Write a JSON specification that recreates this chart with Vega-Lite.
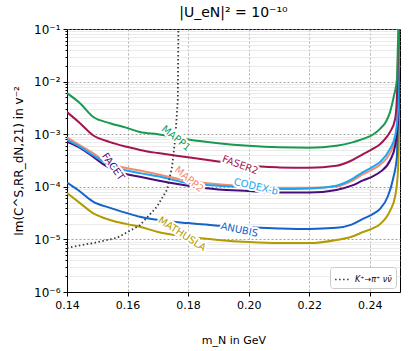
{
"$schema": "https://vega.github.io/schema/vega-lite/v6.json",
"width": 333, "height": 263,
"autosize": {"type": "none"},
"padding": {"left": 67, "top": 29, "right": 8, "bottom": 59},
"background": "white",
"title": {"text": "|U_eN|² = 10⁻¹⁰", "fontSize": 14, "font": "DejaVu Sans", "fontWeight": "normal", "offset": 3, "color": "black", "frame": "group", "anchor": "middle"},
"config": {
 "view": {"stroke": "black", "strokeWidth": 1},
 "font": "DejaVu Sans",
 "axis": {"domainColor": "black", "tickColor": "black", "labelColor": "black", "titleColor": "black", "labelFont": "DejaVu Sans", "titleFont": "DejaVu Sans", "titleFontWeight": "normal", "labelFontSize": 11, "titleFontSize": 11, "labelFlush": false}
},
"datasets": {
 "curves": [
  {"det":"MATHUSLA","m":0.1400,"v":7.59e-5},{"det":"MATHUSLA","m":0.1443,"v":4.90e-5},{"det":"MATHUSLA","m":0.1486,"v":3.16e-5},{"det":"MATHUSLA","m":0.1542,"v":2.34e-5},{"det":"MATHUSLA","m":0.1598,"v":1.95e-5},{"det":"MATHUSLA","m":0.1641,"v":1.74e-5},{"det":"MATHUSLA","m":0.1700,"v":1.38e-5},{"det":"MATHUSLA","m":0.1800,"v":1.12e-5},{"det":"MATHUSLA","m":0.1900,"v":9.77e-6},{"det":"MATHUSLA","m":0.2000,"v":8.91e-6},{"det":"MATHUSLA","m":0.2100,"v":8.51e-6},{"det":"MATHUSLA","m":0.2200,"v":8.51e-6},{"det":"MATHUSLA","m":0.2290,"v":9.77e-6},{"det":"MATHUSLA","m":0.2340,"v":1.12e-5},{"det":"MATHUSLA","m":0.2378,"v":1.38e-5},{"det":"MATHUSLA","m":0.2410,"v":1.62e-5},{"det":"MATHUSLA","m":0.2434,"v":1.95e-5},{"det":"MATHUSLA","m":0.2467,"v":3.47e-5},{"det":"MATHUSLA","m":0.2484,"v":6.61e-5},{"det":"MATHUSLA","m":0.2493,"v":1.91e-4},{"det":"MATHUSLA","m":0.2497,"v":1.26e-3},{"det":"MATHUSLA","m":0.2500,"v":1.12e-2},
  {"det":"ANUBIS","m":0.1400,"v":1.20e-4},{"det":"ANUBIS","m":0.1443,"v":8.13e-5},{"det":"ANUBIS","m":0.1486,"v":5.25e-5},{"det":"ANUBIS","m":0.1542,"v":3.98e-5},{"det":"ANUBIS","m":0.1598,"v":3.16e-5},{"det":"ANUBIS","m":0.1641,"v":2.69e-5},{"det":"ANUBIS","m":0.1700,"v":2.34e-5},{"det":"ANUBIS","m":0.1800,"v":2.04e-5},{"det":"ANUBIS","m":0.1900,"v":1.82e-5},{"det":"ANUBIS","m":0.2000,"v":1.70e-5},{"det":"ANUBIS","m":0.2100,"v":1.62e-5},{"det":"ANUBIS","m":0.2200,"v":1.58e-5},{"det":"ANUBIS","m":0.2290,"v":1.66e-5},{"det":"ANUBIS","m":0.2340,"v":1.91e-5},{"det":"ANUBIS","m":0.2378,"v":2.45e-5},{"det":"ANUBIS","m":0.2410,"v":3.02e-5},{"det":"ANUBIS","m":0.2434,"v":3.80e-5},{"det":"ANUBIS","m":0.2460,"v":6.61e-5},{"det":"ANUBIS","m":0.2477,"v":1.41e-4},{"det":"ANUBIS","m":0.2490,"v":3.89e-4},{"det":"ANUBIS","m":0.2493,"v":2.63e-3},{"det":"ANUBIS","m":0.2497,"v":3.16e-2},{"det":"ANUBIS","m":0.2500,"v":0.1},
  {"det":"MAPP2","m":0.1400,"v":8.71e-4},{"det":"MAPP2","m":0.1443,"v":6.17e-4},{"det":"MAPP2","m":0.1486,"v":4.37e-4},{"det":"MAPP2","m":0.1519,"v":3.24e-4},{"det":"MAPP2","m":0.1565,"v":2.51e-4},{"det":"MAPP2","m":0.1641,"v":2.04e-4},{"det":"MAPP2","m":0.1700,"v":1.74e-4},{"det":"MAPP2","m":0.1800,"v":1.29e-4},{"det":"MAPP2","m":0.1900,"v":1.12e-4},{"det":"MAPP2","m":0.2000,"v":1.02e-4},{"det":"MAPP2","m":0.2100,"v":9.55e-5},{"det":"MAPP2","m":0.2200,"v":9.55e-5},{"det":"MAPP2","m":0.2290,"v":1.02e-4},{"det":"MAPP2","m":0.2340,"v":1.29e-4},{"det":"MAPP2","m":0.2378,"v":1.74e-4},{"det":"MAPP2","m":0.2410,"v":2.14e-4},{"det":"MAPP2","m":0.2434,"v":2.63e-4},{"det":"MAPP2","m":0.2467,"v":4.37e-4},{"det":"MAPP2","m":0.2484,"v":7.94e-4},{"det":"MAPP2","m":0.2493,"v":2.24e-3},{"det":"MAPP2","m":0.2497,"v":2.00e-2},{"det":"MAPP2","m":0.2500,"v":0.126},
  {"det":"FACET","m":0.1400,"v":7.24e-4},{"det":"FACET","m":0.1443,"v":5.50e-4},{"det":"FACET","m":0.1486,"v":3.72e-4},{"det":"FACET","m":0.1519,"v":2.69e-4},{"det":"FACET","m":0.1565,"v":1.95e-4},{"det":"FACET","m":0.1641,"v":1.55e-4},{"det":"FACET","m":0.1700,"v":1.32e-4},{"det":"FACET","m":0.1800,"v":1.05e-4},{"det":"FACET","m":0.1900,"v":8.91e-5},{"det":"FACET","m":0.2000,"v":8.32e-5},{"det":"FACET","m":0.2100,"v":7.76e-5},{"det":"FACET","m":0.2200,"v":7.76e-5},{"det":"FACET","m":0.2290,"v":8.71e-5},{"det":"FACET","m":0.2340,"v":1.05e-4},{"det":"FACET","m":0.2378,"v":1.32e-4},{"det":"FACET","m":0.2410,"v":1.58e-4},{"det":"FACET","m":0.2434,"v":1.91e-4},{"det":"FACET","m":0.2467,"v":3.16e-4},{"det":"FACET","m":0.2484,"v":6.03e-4},{"det":"FACET","m":0.2493,"v":1.70e-3},{"det":"FACET","m":0.2497,"v":1.12e-2},{"det":"FACET","m":0.2500,"v":0.1},
  {"det":"CODEX-b","m":0.1400,"v":7.76e-4},{"det":"CODEX-b","m":0.1443,"v":5.75e-4},{"det":"CODEX-b","m":0.1486,"v":3.98e-4},{"det":"CODEX-b","m":0.1519,"v":3.02e-4},{"det":"CODEX-b","m":0.1565,"v":2.29e-4},{"det":"CODEX-b","m":0.1641,"v":1.82e-4},{"det":"CODEX-b","m":0.1700,"v":1.58e-4},{"det":"CODEX-b","m":0.1800,"v":1.17e-4},{"det":"CODEX-b","m":0.1900,"v":1.05e-4},{"det":"CODEX-b","m":0.2000,"v":9.77e-5},{"det":"CODEX-b","m":0.2100,"v":9.12e-5},{"det":"CODEX-b","m":0.2200,"v":9.33e-5},{"det":"CODEX-b","m":0.2290,"v":1.05e-4},{"det":"CODEX-b","m":0.2340,"v":1.38e-4},{"det":"CODEX-b","m":0.2378,"v":1.91e-4},{"det":"CODEX-b","m":0.2410,"v":2.40e-4},{"det":"CODEX-b","m":0.2434,"v":2.95e-4},{"det":"CODEX-b","m":0.2467,"v":5.25e-4},{"det":"CODEX-b","m":0.2484,"v":9.33e-4},{"det":"CODEX-b","m":0.2493,"v":2.63e-3},{"det":"CODEX-b","m":0.2497,"v":2.34e-2},{"det":"CODEX-b","m":0.2500,"v":0.126},
  {"det":"FASER2","m":0.1400,"v":2.63e-3},{"det":"FASER2","m":0.1443,"v":1.62e-3},{"det":"FASER2","m":0.1486,"v":9.55e-4},{"det":"FASER2","m":0.1542,"v":7.08e-4},{"det":"FASER2","m":0.1598,"v":5.75e-4},{"det":"FASER2","m":0.1641,"v":5.01e-4},{"det":"FASER2","m":0.1700,"v":4.37e-4},{"det":"FASER2","m":0.1800,"v":3.63e-4},{"det":"FASER2","m":0.1900,"v":3.02e-4},{"det":"FASER2","m":0.2000,"v":2.51e-4},{"det":"FASER2","m":0.2100,"v":2.34e-4},{"det":"FASER2","m":0.2200,"v":2.29e-4},{"det":"FASER2","m":0.2290,"v":2.51e-4},{"det":"FASER2","m":0.2340,"v":3.16e-4},{"det":"FASER2","m":0.2378,"v":4.17e-4},{"det":"FASER2","m":0.2410,"v":5.25e-4},{"det":"FASER2","m":0.2434,"v":6.46e-4},{"det":"FASER2","m":0.2455,"v":8.71e-4},{"det":"FASER2","m":0.2467,"v":1.10e-3},{"det":"FASER2","m":0.2484,"v":1.95e-3},{"det":"FASER2","m":0.2490,"v":5.37e-3},{"det":"FASER2","m":0.2493,"v":2.34e-2},{"det":"FASER2","m":0.2497,"v":0.158},
  {"det":"MAPP1","m":0.1400,"v":6.03e-3},{"det":"MAPP1","m":0.1443,"v":3.89e-3},{"det":"MAPP1","m":0.1486,"v":2.14e-3},{"det":"MAPP1","m":0.1542,"v":1.62e-3},{"det":"MAPP1","m":0.1598,"v":1.32e-3},{"det":"MAPP1","m":0.1641,"v":1.10e-3},{"det":"MAPP1","m":0.1700,"v":1.00e-3},{"det":"MAPP1","m":0.1800,"v":7.94e-4},{"det":"MAPP1","m":0.1900,"v":6.76e-4},{"det":"MAPP1","m":0.2000,"v":6.03e-4},{"det":"MAPP1","m":0.2100,"v":5.62e-4},{"det":"MAPP1","m":0.2200,"v":5.50e-4},{"det":"MAPP1","m":0.2290,"v":6.03e-4},{"det":"MAPP1","m":0.2340,"v":6.92e-4},{"det":"MAPP1","m":0.2378,"v":8.13e-4},{"det":"MAPP1","m":0.2410,"v":9.77e-4},{"det":"MAPP1","m":0.2434,"v":1.26e-3},{"det":"MAPP1","m":0.2455,"v":1.78e-3},{"det":"MAPP1","m":0.2467,"v":2.63e-3},{"det":"MAPP1","m":0.2480,"v":5.37e-3},{"det":"MAPP1","m":0.2490,"v":1.12e-2},{"det":"MAPP1","m":0.2493,"v":4.79e-2},{"det":"MAPP1","m":0.2496,"v":0.158}
 ],
 "kaon": [
  {"name":"K⁺→π⁺ νν̄","m":0.1400,"v":6.92e-6},{"name":"K⁺→π⁺ νν̄","m":0.1486,"v":8.51e-6},{"name":"K⁺→π⁺ νν̄","m":0.1565,"v":1.07e-5},{"name":"K⁺→π⁺ νν̄","m":0.1641,"v":1.86e-5},{"name":"K⁺→π⁺ νν̄","m":0.1697,"v":4.17e-5},{"name":"K⁺→π⁺ νν̄","m":0.1730,"v":8.71e-5},{"name":"K⁺→π⁺ νν̄","m":0.1747,"v":2.40e-4},{"name":"K⁺→π⁺ νν̄","m":0.1757,"v":7.76e-4},{"name":"K⁺→π⁺ νν̄","m":0.1762,"v":2.00e-3},{"name":"K⁺→π⁺ νν̄","m":0.1766,"v":4.47e-3},{"name":"K⁺→π⁺ νν̄","m":0.1768,"v":0.1},{"name":"K⁺→π⁺ νν̄","m":0.1769,"v":0.2}
 ],
 "labels": [
  {"label":"MAPP1","m":0.1760,"v":8.32e-4},
  {"label":"FASER2","m":0.1972,"v":2.57e-4},
  {"label":"FACET","m":0.1552,"v":2.40e-4},
  {"label":"MAPP2","m":0.1803,"v":1.38e-4},
  {"label":"CODEX-b","m":0.2024,"v":1.0e-4},
  {"label":"ANUBIS","m":0.1969,"v":1.51e-5},
  {"label":"MATHUSLA","m":0.1780,"v":1.26e-5}
 ]
},
"layer": [
 {
  "data": {"name": "curves"},
  "mark": {"type": "line", "strokeWidth": 2, "clip": true, "interpolate": "monotone"},
  "encoding": {
   "x": {"field": "m", "type": "quantitative", "scale": {"domain": [0.14, 0.25], "nice": false, "zero": false},
         "axis": {"values": [0.14, 0.16, 0.18, 0.20, 0.22, 0.24], "format": ".2f", "title": "m_N in GeV", "tickSize": 4, "labelPadding": 3, "labelFlush": false, "titlePadding": 24, "grid": true, "gridColor": "#9a9a9a", "gridDash": [2, 2], "gridWidth": 0.8}},
   "y": {"field": "v", "type": "quantitative", "scale": {"type": "log", "domain": [1e-6, 0.1], "nice": false},
         "axis": {"orient": "left", "values": [1e-6, 1e-5, 1e-4, 1e-3, 1e-2, 1e-1], "labelExpr": "'10' + ['⁻⁶','⁻⁵','⁻⁴','⁻³','⁻²','⁻¹'][round(log(datum.value)/LN10)+6]", "labelFontSize": 12, "tickSize": 4, "labelPadding": 3, "title": "Im(C^S,RR_dN,21) in v⁻²", "titleFontSize": 12, "titlePadding": 8, "grid": true, "gridColor": "#8a8a8a", "gridDash": [2, 2], "gridWidth": 0.8}},
   "color": {"field": "det", "type": "nominal", "legend": null,
     "scale": {"domain": ["MATHUSLA", "ANUBIS", "MAPP2", "FACET", "CODEX-b", "FASER2", "MAPP1"],
               "range": ["#b09c00", "#1463c8", "#f58a6e", "#4a0c7d", "#1ca5f0", "#a3154f", "#1a9a50"]}}
  }
 },
 {
  "data": {"name": "kaon"},
  "mark": {"type": "line", "strokeWidth": 1.8, "color": "#3a3a3a", "clip": true},
  "encoding": {
   "x": {"field": "m", "type": "quantitative"},
   "y": {"field": "v", "type": "quantitative",
         "axis": {"orient": "left", "values": [2e-6,3e-6,4e-6,5e-6,6e-6,7e-6,8e-6,9e-6,2e-5,3e-5,4e-5,5e-5,6e-5,7e-5,8e-5,9e-5,2e-4,3e-4,4e-4,5e-4,6e-4,7e-4,8e-4,9e-4,2e-3,3e-3,4e-3,5e-3,6e-3,7e-3,8e-3,9e-3,2e-2,3e-2,4e-2,5e-2,6e-2,7e-2,8e-2,9e-2],
                  "labels": false, "domain": false, "tickSize": 2, "title": null, "grid": true, "gridColor": "#e2e2e2", "gridWidth": 0.7}},
   "strokeDash": {"field": "name", "type": "nominal", "scale": {"range": [[1.5, 2.5]]},
     "legend": {"title": null, "orient": "bottom-right", "offset": 4, "padding": 4, "fillColor": "white", "strokeColor": "#cccccc", "cornerRadius": 3,
                "symbolType": "stroke", "symbolStrokeColor": "#3a3a3a", "symbolStrokeWidth": 1.6, "symbolSize": 220,
                "labelFontSize": 8, "labelFontStyle": "italic", "labelColor": "black", "labelFont": "DejaVu Sans"}}
  }
 },
 {
  "data": {"name": "labels"},
  "encoding": {
   "x": {"field": "m", "type": "quantitative"},
   "y": {"field": "v", "type": "quantitative", "axis": null},
   "text": {"field": "label"}
  },
  "layer": [
   {"transform": [{"filter": "datum.label == 'MAPP1'"}], "layer": [
     {"mark": {"type": "text", "angle": 39, "fontSize": 10, "stroke": "white", "strokeWidth": 4, "fill": "white", "strokeJoin": "round"}},
     {"mark": {"type": "text", "angle": 39, "fontSize": 10, "color": "#1a9a50"}}]},
   {"transform": [{"filter": "datum.label == 'FASER2'"}], "layer": [
     {"mark": {"type": "text", "angle": 20, "fontSize": 10, "stroke": "white", "strokeWidth": 4, "fill": "white", "strokeJoin": "round"}},
     {"mark": {"type": "text", "angle": 20, "fontSize": 10, "color": "#a3154f"}}]},
   {"transform": [{"filter": "datum.label == 'FACET'"}], "layer": [
     {"mark": {"type": "text", "angle": 54, "fontSize": 10, "stroke": "white", "strokeWidth": 4, "fill": "white", "strokeJoin": "round"}},
     {"mark": {"type": "text", "angle": 54, "fontSize": 10, "color": "#4a0c7d"}}]},
   {"transform": [{"filter": "datum.label == 'MAPP2'"}], "layer": [
     {"mark": {"type": "text", "angle": 40, "fontSize": 10, "stroke": "white", "strokeWidth": 4, "fill": "white", "strokeJoin": "round"}},
     {"mark": {"type": "text", "angle": 40, "fontSize": 10, "color": "#f58a6e"}}]},
   {"transform": [{"filter": "datum.label == 'CODEX-b'"}], "layer": [
     {"mark": {"type": "text", "angle": 13, "fontSize": 10, "stroke": "white", "strokeWidth": 4, "fill": "white", "strokeJoin": "round"}},
     {"mark": {"type": "text", "angle": 13, "fontSize": 10, "color": "#1ca5f0"}}]},
   {"transform": [{"filter": "datum.label == 'ANUBIS'"}], "layer": [
     {"mark": {"type": "text", "angle": 12, "fontSize": 10, "stroke": "white", "strokeWidth": 4, "fill": "white", "strokeJoin": "round"}},
     {"mark": {"type": "text", "angle": 12, "fontSize": 10, "color": "#1463c8"}}]},
   {"transform": [{"filter": "datum.label == 'MATHUSLA'"}], "layer": [
     {"mark": {"type": "text", "angle": 33, "fontSize": 10, "stroke": "white", "strokeWidth": 4, "fill": "white", "strokeJoin": "round"}},
     {"mark": {"type": "text", "angle": 33, "fontSize": 10, "color": "#b09c00"}}]}
  ]
 }
],
"resolve": {"axis": {"y": "independent"}}
}
